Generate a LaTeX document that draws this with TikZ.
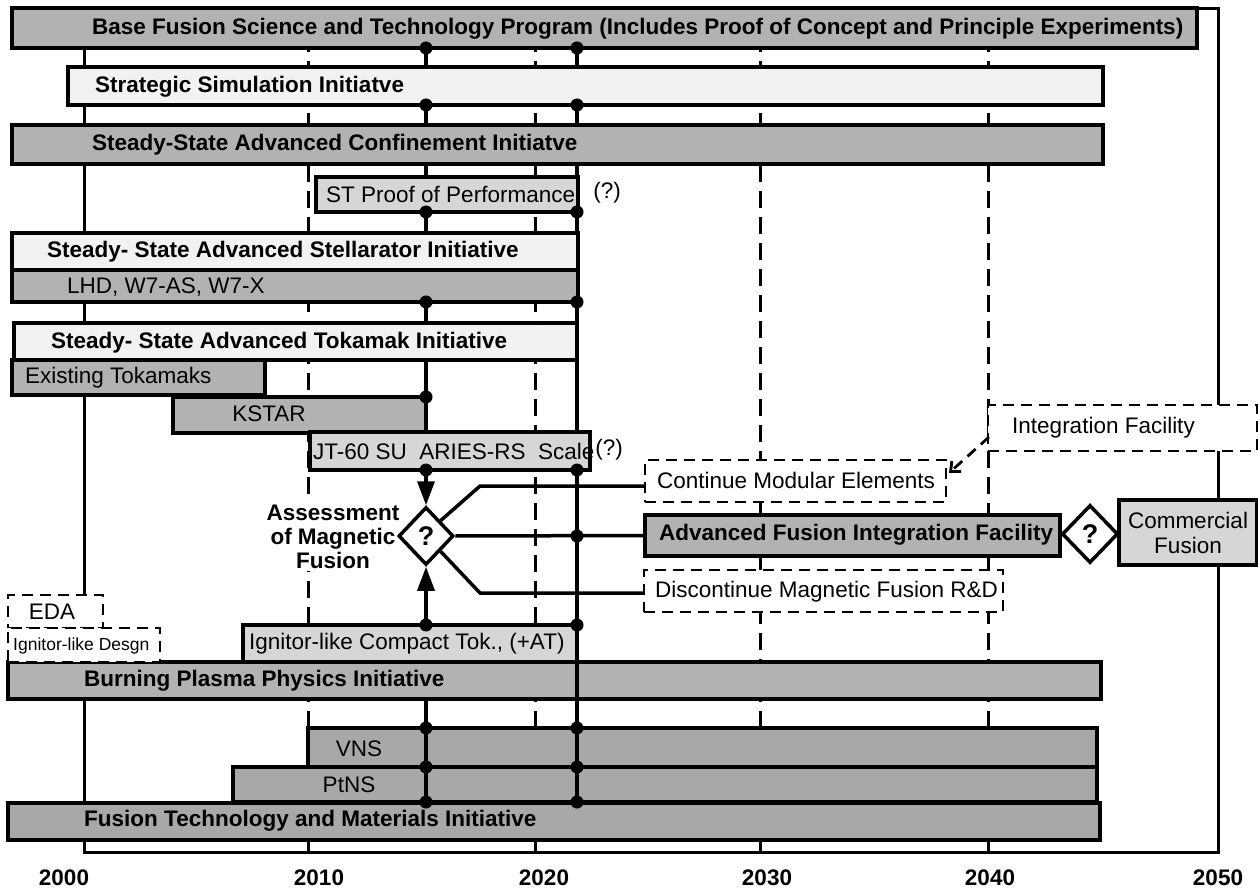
\documentclass[tikz,border=0pt]{standalone}
\usepackage{fontspec}
\setmainfont{Liberation Sans}
\usetikzlibrary{shapes.geometric,arrows.meta}
\definecolor{gMid}{gray}{0.70}
\definecolor{gDark}{gray}{0.66}
\definecolor{gLight}{gray}{0.84}
\definecolor{gWhite}{gray}{0.95}
\newcommand\mybar[6]{\node[#6, anchor=north west, minimum width={(#4-#2)*1pt}, minimum height={(#5-#3)*1pt}] (#1) at (#2,#3) {};}
\begin{document}
\begin{tikzpicture}[x=1pt,y=-1pt,
  barbox/.style={draw=black, line width=3.5pt, inner sep=0pt, outer sep=0pt},
  dbox/.style={draw=black, fill=white, line width=2.8pt, dash pattern=on 11pt off 7pt, inner sep=0pt, outer sep=0pt},
  lbl/.style={font=\fontsize{22.5}{25}\selectfont, inner sep=0pt},
  blbl/.style={font=\fontsize{22.5}{25}\selectfont\bfseries, inner sep=0pt},
  dot/.style={circle, fill=black, inner sep=0pt, minimum size=13pt},
  yearline/.style={line width=3pt, dash pattern=on 17pt off 9pt},
  conn/.style={line width=3.5pt},
  dline/.style={line width=2.8pt, dash pattern=on 11pt off 7pt},
  dmd/.style={diamond, draw=black, fill=white, line width=3.5pt, inner sep=0pt, font=\fontsize{27}{29}\selectfont\bfseries},
  tip/.style={-{Triangle[length=24pt,width=17pt]}}
]
\useasboundingbox (0,0) rectangle (1258,890);
\fill[white] (0,0) rectangle (1258,890);

% ---- coordinates of the two milestone lines
\coordinate (a1) at (426,48);  \coordinate (b1) at (577,48);
\coordinate (a2) at (426,105); \coordinate (b2) at (577,105);
\coordinate (a3) at (426,212); \coordinate (b3) at (577,212);
\coordinate (a4) at (426,302); \coordinate (b4) at (577,302);
\coordinate (a5) at (426,397);
\coordinate (a6) at (426,470); \coordinate (b5) at (577,470);
                               \coordinate (b6) at (577,536);
\coordinate (a7) at (426,625); \coordinate (b7) at (577,625);
\coordinate (ab) at (426,699); \coordinate (bb) at (577,662);
\coordinate (a8) at (426,728); \coordinate (b8) at (577,728);
\coordinate (a9) at (426,767); \coordinate (b9) at (577,767);
\coordinate (a10) at (426,802); \coordinate (b10) at (577,802);

% ---- frame and year lines
\draw[line width=3pt] (84,9) rectangle (1218,852);
\foreach \x in {308,535,760,988} \draw[yearline] (\x,9) -- (\x,852);

% ---- lines behind the bars
\draw[conn] (a1) -- (a5);
\draw[conn] (b1) -- (b10);

% ---- bars
\mybar{base}{12}{8}{1197}{48}{barbox, fill=gMid}
\mybar{sim}{68}{67}{1103}{105}{barbox, fill=gWhite}
\mybar{conf}{12}{125}{1103}{164}{barbox, fill=gMid}
\mybar{stp}{316}{177}{578}{212}{barbox, fill=gLight}
\mybar{stel}{12}{233}{578}{270}{barbox, fill=gWhite}
\mybar{lhd}{12}{270}{578}{302}{barbox, fill=gMid}
\mybar{tok}{14}{323}{577}{360}{barbox, fill=gWhite}
\mybar{exist}{12}{360}{265}{395}{barbox, fill=gMid}
\mybar{kstar}{173}{397}{426}{433}{barbox, fill=gMid}
\mybar{jt}{310}{432}{590}{470}{barbox, fill=gLight}
\mybar{afif}{645}{515}{1060}{556}{barbox, fill=gMid}
\mybar{comm}{1119}{500}{1257}{565}{barbox, fill=gLight}
\mybar{igc}{243}{625}{577}{662}{barbox, fill=gLight}
\mybar{burn}{8}{662}{1101}{699}{barbox, fill=gMid}
\mybar{vnsA}{308}{728}{426}{767}{barbox, fill=gDark}
\mybar{vnsB}{426}{728}{577}{767}{barbox, fill=gDark}
\mybar{vnsC}{577}{728}{1097}{767}{barbox, fill=gDark}
\mybar{ptnsA}{233}{767}{426}{802}{barbox, fill=gDark}
\mybar{ptnsB}{426}{767}{577}{802}{barbox, fill=gDark}
\mybar{ptnsC}{577}{767}{1097}{802}{barbox, fill=gDark}
\mybar{ftm}{8}{803}{1100}{840}{barbox, fill=gDark}

% ---- dashed boxes
\mybar{cont}{645}{460}{946}{502}{dbox}
\mybar{intf}{988}{405}{1257}{451}{dbox}
\mybar{disc}{644}{570}{1003}{612}{dbox}
\mybar{eda}{8}{595}{103}{628}{dbox}
\mybar{igd}{8}{628}{160}{662}{dbox}

% ---- lines on top of bars
\draw[conn] (bb) -- (b10);
\draw[conn] (ab) -- (a10);

% ---- assessment label
\node[font=\fontsize{22.5}{24}\selectfont\bfseries, align=center, fill=white, inner sep=2pt] (assess) at (333,537) {Assessment\\of Magnetic\\Fusion};

% ---- decision diamonds and branches
\coordinate (ub) at (480,486);
\coordinate (lb) at (480,593);
\node[dmd, minimum width=55pt, minimum height=58pt] (d1) at (426,536) {?};
\node[dmd, minimum width=56pt, minimum height=58pt] (d2) at (1090,534) {?};
\draw[conn] (d1.north east) -- (ub) -- (ub -| cont.west);
\draw[conn] (d1.east) -- (afif.west);
\draw[conn] (d1.south east) -- (lb) -- (lb -| disc.west);
\draw[conn, tip] (a6) -- (d1.north);
\draw[conn, tip] (a7) -- (d1.south);
\coordinate (ia) at (989,437);
\coordinate (ib) at (949,473);
\draw[dline, -{Straight Barb[length=8pt,width=14pt,line width=2.8pt]}] (ia) -- (ib);

% ---- dots
\foreach \p in {a1,a2,a3,a4,a5,a6,a7,a8,a9,a10,b1,b2,b3,b4,b5,b6,b7,b8,b9,b10}
  \node[dot] (dot-\p) at (\p) {};

% ---- texts
\node[blbl, anchor=west] (t-base) at (92,29) {Base Fusion Science and Technology Program (Includes Proof of Concept and Principle Experiments)};
\node[blbl, anchor=west] (t-sim) at (95,87) {Strategic Simulation Initiatve};
\node[blbl, anchor=west] (t-conf) at (92,145) {Steady-State Advanced Confinement Initiatve};
\node[lbl, anchor=west] (t-stp) at (326,194) {ST Proof of Performance};
\node[lbl] (q1) at (607,193) {(?)};
\node[blbl, anchor=west] (t-stel) at (47,252) {Steady- State Advanced Stellarator Initiative};
\node[lbl, anchor=west] (t-lhd) at (67,287) {LHD, W7-AS, W7-X};
\node[blbl, anchor=west] (t-tok) at (51,343) {Steady- State Advanced Tokamak Initiative};
\node[lbl, anchor=west] (t-exist) at (25,378) {Existing Tokamaks};
\node[lbl] (t-kstar) at (269,414) {KSTAR};
\node[lbl, anchor=west] (t-jt) at (313,451) {JT-60 SU~ ARIES-RS~ Scale};
\node[lbl] (q2) at (609,450) {(?)};
\node[lbl, anchor=west] (t-cont) at (657,480) {Continue Modular Elements};
\node[lbl, anchor=west] (t-intf) at (1012,428) {Integration Facility};
\node[blbl, anchor=west] (t-afif) at (659,535) {Advanced Fusion Integration Facility};
\node[lbl, align=center] (t-comm) at (1188,533) {Commercial\\Fusion};
\node[lbl, anchor=west] (t-disc) at (655,592) {Discontinue Magnetic Fusion R\&D};
\node[lbl] (t-eda) at (52,612) {EDA};
\node[font=\fontsize{17.5}{19}\selectfont, inner sep=0pt, anchor=west] (t-igd) at (13,646) {Ignitor-like Desgn};
\node[lbl, anchor=west] (t-igc) at (249,644) {Ignitor-like Compact Tok., (+AT)};
\node[blbl, anchor=west] (t-burn) at (84,681) {Burning Plasma Physics Initiative};
\node[lbl] (t-vns) at (359,749) {VNS};
\node[lbl] (t-ptns) at (349,785) {PtNS};
\node[blbl, anchor=west] (t-ftm) at (84,821) {Fusion Technology and Materials Initiative};

% ---- years
\foreach \x/\y in {64/2000, 319/2010, 544/2020, 767/2030, 990/2040, 1218/2050}
  \node[blbl] (yr-\y) at (\x,878) {\y};
\end{tikzpicture}
\end{document}
